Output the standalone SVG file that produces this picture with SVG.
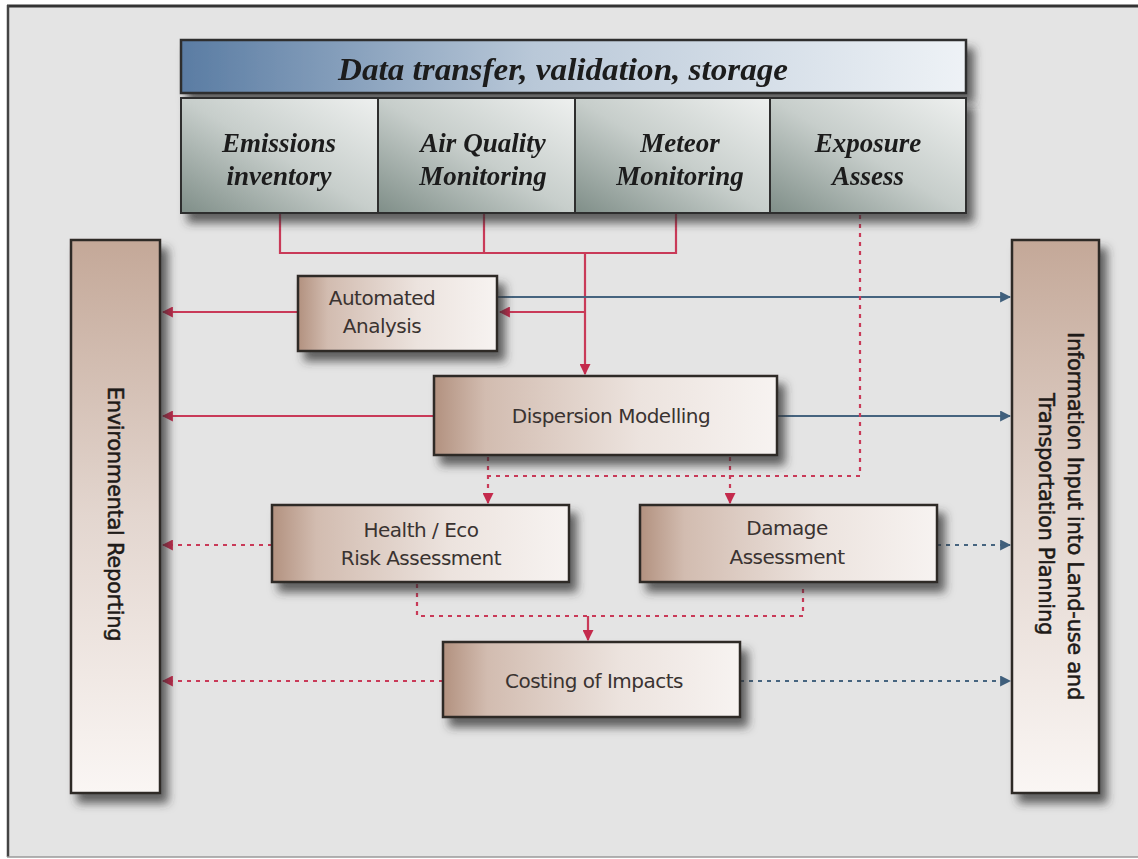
<svg xmlns="http://www.w3.org/2000/svg" width="1138" height="859" viewBox="0 0 1138 859">
<defs>
  <linearGradient id="gHeader" x1="0" y1="0" x2="1" y2="0">
    <stop offset="0" stop-color="#5a7ca3"/>
    <stop offset="0.45" stop-color="#b9c8d8"/>
    <stop offset="1" stop-color="#eef2f6"/>
  </linearGradient>
  <linearGradient id="gSrc" x1="0" y1="1" x2="1" y2="0">
    <stop offset="0" stop-color="#7f8e88"/>
    <stop offset="0.5" stop-color="#c7cecb"/>
    <stop offset="1" stop-color="#eef0ef"/>
  </linearGradient>
  <linearGradient id="gBox" x1="0" y1="0" x2="1" y2="0">
    <stop offset="0" stop-color="#b2917f"/>
    <stop offset="0.15" stop-color="#d2bcb0"/>
    <stop offset="0.6" stop-color="#ece3de"/>
    <stop offset="1" stop-color="#f7f3f1"/>
  </linearGradient>
  <linearGradient id="gPanel" x1="0" y1="0" x2="0" y2="1">
    <stop offset="0" stop-color="#c4a898"/>
    <stop offset="0.5" stop-color="#e3d6cf"/>
    <stop offset="1" stop-color="#faf6f4"/>
  </linearGradient>
  <filter id="shadow" x="-20%" y="-20%" width="150%" height="150%">
    <feDropShadow dx="7" dy="9" stdDeviation="5" flood-color="#333" flood-opacity="0.75"/>
  </filter>
  <marker id="aRed" viewBox="0 0 10 10" refX="9" refY="5" markerWidth="11" markerHeight="11" markerUnits="userSpaceOnUse" orient="auto">
    <path d="M0,0 L10,5 L0,10 Z" fill="#c42a4c"/>
  </marker>
  <marker id="aBlue" viewBox="0 0 10 10" refX="9" refY="5" markerWidth="11" markerHeight="11" markerUnits="userSpaceOnUse" orient="auto">
    <path d="M0,0 L10,5 L0,10 Z" fill="#3f5f7c"/>
  </marker>
  <style>
    .box{fill:url(#gBox);stroke:#2e2a28;stroke-width:2.5;filter:url(#shadow)}
    .panel{fill:url(#gPanel);stroke:#2e2a28;stroke-width:2.5;filter:url(#shadow)}
    .src{fill:url(#gSrc);stroke:#2e2e2e;stroke-width:2}
    .serif{font-family:"Liberation Serif","Times New Roman",serif;font-weight:bold;font-style:italic;fill:#1c1c1c;text-anchor:middle}
    .lbl{font-family:"DejaVu Sans","Liberation Sans",sans-serif;font-size:20px;fill:#3a3331;text-anchor:middle;letter-spacing:-0.5px}
    .plbl{font-family:"DejaVu Sans","Liberation Sans",sans-serif;font-size:21px;fill:#1e1a18;stroke:#1e1a18;stroke-width:0.5;text-anchor:middle;letter-spacing:-0.3px}
    .red{fill:none;stroke:#c93a58;stroke-width:2.2}
    .blue{fill:none;stroke:#46647f;stroke-width:2.2}
    .dash{stroke-dasharray:4 5}
  </style>
</defs>

<rect x="0" y="0" width="1138" height="859" fill="#ffffff"/>
<rect x="7" y="5" width="1131" height="852" fill="#e4e4e4"/>
<line x1="7" y1="6" x2="1138" y2="6" stroke="#333" stroke-width="3"/>
<line x1="8" y1="5" x2="8" y2="857" stroke="#444" stroke-width="2.5"/>
<line x1="7" y1="857" x2="1138" y2="857" stroke="#9a9a9a" stroke-width="1.5"/>

<g id="connectors">
  <polyline class="red" points="280,213 280,253 676,253 676,213"/>
  <line class="red" x1="484" y1="213" x2="484" y2="253"/>
  <line class="red" x1="585" y1="253" x2="585" y2="374" marker-end="url(#aRed)"/>
  <line class="red" x1="585" y1="312" x2="500" y2="312" marker-end="url(#aRed)"/>
  <line class="red" x1="298" y1="312" x2="163" y2="312" marker-end="url(#aRed)"/>
  <line class="red" x1="434" y1="416" x2="163" y2="416" marker-end="url(#aRed)"/>
  <line class="red dash" x1="272" y1="545" x2="163" y2="545" marker-end="url(#aRed)"/>
  <line class="red dash" x1="443" y1="681" x2="163" y2="681" marker-end="url(#aRed)"/>
  <line class="blue" x1="497" y1="297" x2="1010" y2="297" marker-end="url(#aBlue)"/>
  <line class="blue" x1="777" y1="416" x2="1010" y2="416" marker-end="url(#aBlue)"/>
  <line class="blue dash" x1="937" y1="545" x2="1010" y2="545" marker-end="url(#aBlue)"/>
  <line class="blue dash" x1="740" y1="681" x2="1010" y2="681" marker-end="url(#aBlue)"/>
  <polyline class="red dash" points="860,215 860,476 488,476"/>
  <line class="red dash" x1="488" y1="457" x2="488" y2="503" marker-end="url(#aRed)"/>
  <line class="red dash" x1="730" y1="457" x2="730" y2="503" marker-end="url(#aRed)"/>
  <polyline class="red dash" points="417,584 417,616 803,616 803,584"/>
  <line class="red" x1="588" y1="616" x2="588" y2="640" marker-end="url(#aRed)"/>
</g>

<g id="header" filter="url(#shadow)">
  <rect x="181" y="40" width="785" height="53" fill="url(#gHeader)" stroke="#2e2e2e" stroke-width="2.5"/>
  <text class="serif" x="563" y="80" font-size="32" textLength="450" lengthAdjust="spacingAndGlyphs">Data transfer, validation, storage</text>
</g>

<g id="sources" filter="url(#shadow)">
  <g id="emissions">
    <rect class="src" x="181" y="98" width="197" height="115"/>
    <text class="serif" x="279" y="152" font-size="27">Emissions</text>
    <text class="serif" x="279" y="185" font-size="27">inventory</text>
  </g>
  <g id="airquality">
    <rect class="src" x="378" y="98" width="197" height="115"/>
    <text class="serif" x="483" y="152" font-size="27">Air Quality</text>
    <text class="serif" x="483" y="185" font-size="27">Monitoring</text>
  </g>
  <g id="meteor">
    <rect class="src" x="575" y="98" width="195" height="115"/>
    <text class="serif" x="680" y="152" font-size="27">Meteor</text>
    <text class="serif" x="680" y="185" font-size="27">Monitoring</text>
  </g>
  <g id="exposure">
    <rect class="src" x="770" y="98" width="196" height="115"/>
    <text class="serif" x="868" y="152" font-size="27">Exposure</text>
    <text class="serif" x="868" y="185" font-size="27">Assess</text>
  </g>
</g>

<g id="automated">
  <rect class="box" x="298" y="276" width="199" height="75"/>
  <text class="lbl" x="382" y="305">Automated</text>
  <text class="lbl" x="382" y="333">Analysis</text>
</g>

<g id="dispersion">
  <rect class="box" x="434" y="376" width="343" height="79"/>
  <text class="lbl" x="611" y="423">Dispersion Modelling</text>
</g>

<g id="health">
  <rect class="box" x="272" y="505" width="297" height="77"/>
  <text class="lbl" x="421" y="537">Health / Eco</text>
  <text class="lbl" x="421" y="565">Risk Assessment</text>
</g>

<g id="damage">
  <rect class="box" x="640" y="505" width="297" height="77"/>
  <text class="lbl" x="787" y="535">Damage</text>
  <text class="lbl" x="787" y="564">Assessment</text>
</g>

<g id="costing">
  <rect class="box" x="443" y="642" width="297" height="75"/>
  <text class="lbl" x="594" y="688">Costing of Impacts</text>
</g>

<g id="envreporting">
  <rect class="panel" x="71" y="240" width="89" height="553"/>
  <text class="plbl" transform="translate(115,514) rotate(90)" x="0" y="7">Environmental Reporting</text>
</g>

<g id="planning">
  <rect class="panel" x="1012" y="240" width="87" height="553"/>
  <text class="plbl" transform="translate(1060,516) rotate(90)" x="0" y="-8">Information Input into Land-use and</text>
  <text class="plbl" transform="translate(1060,514) rotate(90)" x="0" y="21">Transportation Planning</text>
</g>
</svg>
